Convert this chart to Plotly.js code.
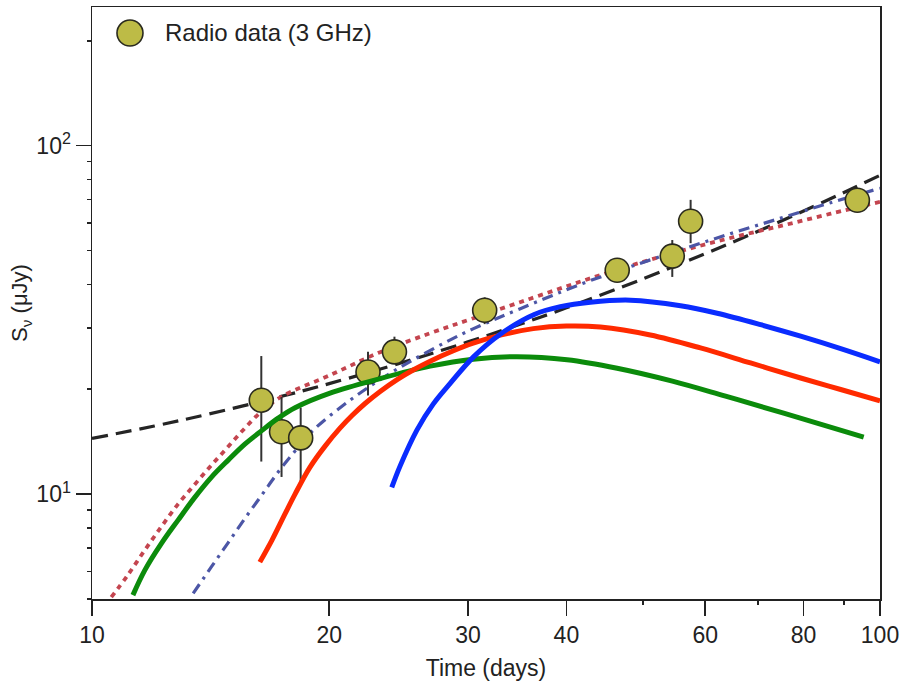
<!DOCTYPE html>
<html>
<head>
<meta charset="utf-8">
<script src="https://cdn.plot.ly/plotly-3.0.1.min.js"></script>
<style>html,body{margin:0;padding:0;background:#fff;}#chart{width:903px;height:681px;}</style>
</head>
<body>
<div id="chart"></div>
<script>
// Radio data (3 GHz)
const obsTime = [16.4, 17.4, 18.4, 22.4, 24.2, 31.5, 46.4, 54.5, 57.5, 93.6];
const obsFlux = [18.6, 15.1, 14.5, 22.4, 25.6, 33.7, 43.9, 48.2, 60.7, 69.7];
const obsErrUp = [6.3, 3.9, 3.2, 3.2, 2.7, 3.0, 0, 5.4, 9.2, 0];
const obsErrDown = [6.2, 3.9, 3.65, 3.2, 1.8, 2.95, 0, 6.2, 8.2, 0];

// Black dashed model
const blackDashT = [10, 12, 14, 17, 20, 25, 30, 35, 40, 50, 60, 70, 80, 90, 100];
const blackDashF = [14.45, 15.68, 16.93, 18.83, 20.75, 24.01, 27.35, 30.76, 34.24, 41.45, 48.97, 56.79, 64.95, 73.4, 82.2];

// Red dotted model
const redDotT = [10.58, 11.11, 11.67, 12.25, 12.86, 13.51, 14.18, 14.89, 15.63, 16.42, 17.40, 20.05, 23.21, 26.86, 30.49, 35.99, 42.03, 48.64, 56.36, 65.18, 75.46, 86.57, 100];
const redDotF = [5.06, 5.87, 6.91, 8.07, 9.36, 10.68, 12.11, 13.69, 15.46, 17.30, 19.05, 21.95, 25.55, 28.96, 31.98, 36.38, 40.98, 45.53, 50.12, 54.61, 59.11, 63.78, 68.96];

// Blue dash-dot model
const blueDashDotT = [13.44, 14.18, 14.89, 15.63, 16.42, 17.23, 18.10, 19.09, 21.05, 23.21, 25.58, 28.20, 30.49, 34.96, 42.03, 48.64, 56.36, 65.18, 75.46, 86.57, 100];
const blueDashDotF = [5.19, 6.19, 7.26, 8.51, 9.93, 11.57, 13.29, 15.26, 18.30, 21.31, 24.31, 27.39, 29.84, 34.05, 40.30, 45.24, 50.61, 56.25, 62.31, 68.59, 75.47];

// Green solid model
const greenT = [11.27, 11.67, 12.25, 12.86, 13.51, 14.18, 14.89, 15.63, 16.42, 17.23, 18.10, 20.05, 23.21, 26.86, 30.46, 34.62, 40.07, 46.39, 54.52, 63.68, 75.46, 95.35];
const greenF = [5.13, 6.05, 7.22, 8.42, 9.80, 11.19, 12.52, 13.91, 15.21, 16.52, 17.70, 19.49, 21.45, 23.29, 24.39, 24.80, 24.31, 22.98, 21.10, 19.10, 17.08, 14.58];

// Red solid model
const redT = [16.33, 16.92, 17.57, 18.10, 18.91, 19.76, 20.64, 21.38, 22.21, 23.21, 24.39, 25.56, 26.86, 28.65, 30.46, 32.97, 36.31, 39.99, 44.17, 51.11, 59.18, 68.51, 79.30, 89.15, 100];
const redF = [6.38, 7.38, 8.76, 10.0, 11.95, 13.73, 15.46, 16.81, 18.20, 19.71, 21.32, 22.71, 24.07, 25.70, 27.10, 28.58, 29.85, 30.37, 30.17, 28.62, 26.27, 23.79, 21.54, 19.96, 18.53];

// Blue solid model
const blueT = [24.01, 24.60, 25.84, 27.10, 28.48, 30.49, 32.97, 36.35, 39.30, 42.90, 48.24, 55.83, 62.14, 70.55, 79.30, 89.15, 100];
const blueF = [10.45, 12.03, 15.26, 18.12, 20.78, 24.77, 28.77, 32.73, 34.51, 35.55, 36.02, 34.73, 33.05, 30.64, 28.39, 26.15, 23.97];

// Ticks
const xTickVals = [10, 20, 30, 40, 60, 80, 100];
const xTickText = ['10', '20', '30', '40', '60', '80', '100'];
const xMinorVals = [50, 70, 90];
const yTickVals = [10, 100];
const yTickText = ['10<sup>1</sup>', '10<sup>2</sup>'];
const yMinorVals = [5, 6, 7, 8, 9, 20, 30, 40, 50, 60, 70, 80, 90, 200];

const FONT = 'Liberation Sans, Arial, Helvetica, sans-serif';
const INK = '#222222';

function line(x, y, color, width, dash) {
  return {x: x, y: y, type: 'scatter', mode: 'lines', showlegend: false, hoverinfo: 'skip',
    line: {color: color, width: width, dash: dash, shape: 'spline', smoothing: 1}};
}

const traces = [
  line(blackDashT, blackDashF, '#252525', 3.2, '16px,8px'),
  line(redDotT, redDotF, '#c4454f', 3.8, '5px,5px'),
  line(blueDashDotT, blueDashDotF, '#4c56a6', 3.2, '11px,6px,3px,6px'),
  {
    x: obsTime, y: obsFlux, type: 'scatter', mode: 'markers', name: 'Radio data (3 GHz)', showlegend: false,
    marker: {size: 24, color: '#bdbb46', line: {color: '#2a2a1e', width: 1.6}},
    error_y: {type: 'data', symmetric: false, array: obsErrUp, arrayminus: obsErrDown,
      color: '#333333', thickness: 2, width: 0}
  },
  line(greenT, greenF, '#0b8b0b', 5, 'solid'),
  line(redT, redF, '#ff2a00', 5, 'solid'),
  line(blueT, blueF, '#0a2cff', 5, 'solid')
];

const layout = {
  width: 903, height: 681,
  margin: {l: 92, r: 23, t: 7, b: 82},
  paper_bgcolor: '#ffffff', plot_bgcolor: '#ffffff',
  font: {family: FONT, color: INK},
  showlegend: false,
  xaxis: {
    type: 'log', range: [1, 2],
    tickmode: 'array', tickvals: xTickVals, ticktext: xTickText,
    ticks: 'outside', ticklen: 15, tickwidth: 1.5, tickcolor: INK,
    showline: true, linecolor: INK, linewidth: 1.5, mirror: true,
    showgrid: false, zeroline: false,
    tickfont: {family: FONT, size: 23, color: INK},
    minor: {tickmode: 'array', tickvals: xMinorVals, ticks: 'outside', ticklen: 4, tickwidth: 1.5, tickcolor: INK, showgrid: false},
    title: {text: 'Time (days)', font: {family: FONT, size: 23, color: INK}, standoff: 14}
  },
  yaxis: {
    type: 'log', range: [0.69897, 2.39794],
    tickmode: 'array', tickvals: yTickVals, ticktext: yTickText,
    ticks: 'outside', ticklen: 15, tickwidth: 1.5, tickcolor: INK,
    showline: true, linecolor: INK, linewidth: 1.5, mirror: true,
    showgrid: false, zeroline: false,
    tickfont: {family: FONT, size: 23, color: INK},
    minor: {tickmode: 'array', tickvals: yMinorVals, ticks: 'outside', ticklen: 4, tickwidth: 1.5, tickcolor: INK, showgrid: false},
    title: {text: 'S<sub>ν</sub> (μJy)', font: {family: FONT, size: 22, color: INK}, standoff: 2}
  },
  shapes: [{
    type: 'circle', xref: 'paper', yref: 'paper',
    x0: 0.0317, x1: 0.0647, y0: 0.934, y1: 0.978,
    fillcolor: '#bdbb46', line: {color: '#2a2a1e', width: 1.6}
  }],
  annotations: [{
    xref: 'paper', yref: 'paper', x: 0.0901, y: 0.957, xanchor: 'left', yanchor: 'middle',
    text: 'Radio data (3 GHz)', showarrow: false,
    font: {family: FONT, size: 24, color: INK}
  }]
};

Plotly.newPlot('chart', traces, layout, {displayModeBar: false, staticPlot: true});
</script>
</body>
</html>
